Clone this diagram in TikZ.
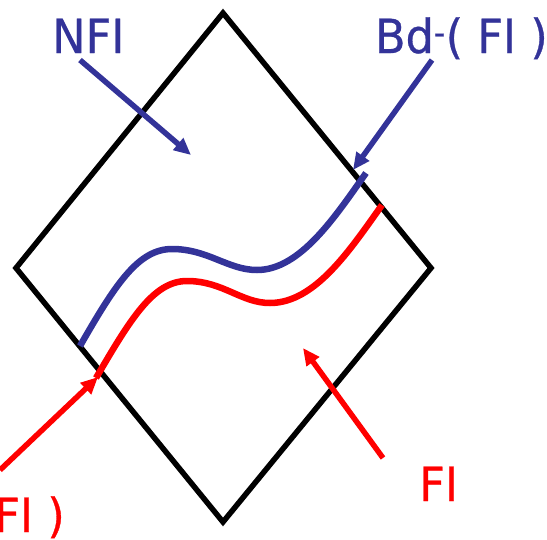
\documentclass[tikz,border=0pt]{standalone}
\usepackage{fontspec}
\setmainfont[FakeStretch=0.95,FakeBold=0.6]{DejaVu Sans}
\usetikzlibrary{arrows.meta}
\definecolor{dblue}{RGB}{51,51,153}
\definecolor{fred}{RGB}{255,0,0}
\begin{document}
\begin{tikzpicture}[x=1pt,y=-1pt,
  border/.style={draw=black,line width=5.5pt,line join=miter},
  bcurve/.style={draw=dblue,line width=6.5pt},
  rcurve/.style={draw=fred,line width=6.5pt},
  pointer/.style={line width=5.5pt,-{Triangle[length=17pt,width=15pt]}},
  lbl/.style={font=\fontsize{47}{50}\selectfont,inner sep=0pt,anchor=base west}]
\useasboundingbox (0,0) rectangle (547,539);
% diamond
\coordinate (T) at (223,13);
\coordinate (R) at (431,268);
\coordinate (B) at (223,522);
\coordinate (L) at (16,268);
\draw[border] (T) -- (R) -- (B) -- (L) -- cycle;
% curves
\coordinate (b0) at (80,346);
\coordinate (b1) at (172,249);
\coordinate (b2) at (257,270);
\coordinate (b3) at (366,173);
\draw[bcurve] (b0) .. controls (115,285) and (138,249) .. (b1)
  .. controls (208,249) and (228,270) .. (b2)
  .. controls (300,270) and (335,217) .. (b3);
\coordinate (r0) at (96,378);
\coordinate (r1) at (187,281);
\coordinate (r2) at (270,303);
\coordinate (r3) at (382,205);
\draw[rcurve] (r0) .. controls (130,320) and (153,281) .. (r1)
  .. controls (223,281) and (241,303) .. (r2)
  .. controls (315,303) and (350,250) .. (r3);
% labels
\node[lbl,text=dblue] (nfi) at (52,53) {NFI};
\node[lbl,text=dblue,anchor=base east] (bdm) at (548,53) {Bd\textsuperscript{-}( FI )};
\node[lbl,text=fred] (fi) at (419,501) {FI};
\node[lbl,text=fred,anchor=base east] (bdp) at (65,532) {Bd\textsuperscript{+}( FI )};
% pointers
\coordinate (a1s) at (80,60);
\coordinate (a1e) at (191,155);
\draw[pointer,dblue] (a1s) -- (a1e);
\coordinate (a2s) at (432,60);
\coordinate (a2e) at (353,170);
\draw[pointer,dblue] (a2s) -- (a2e);
\coordinate (a3s) at (0,470);
\coordinate (a3e) at (98,377);
\draw[pointer,fred] (a3s) -- (a3e);
\coordinate (a4s) at (383,458);
\coordinate (a4e) at (303,348);
\draw[pointer,fred] (a4s) -- (a4e);
\end{tikzpicture}
\end{document}
